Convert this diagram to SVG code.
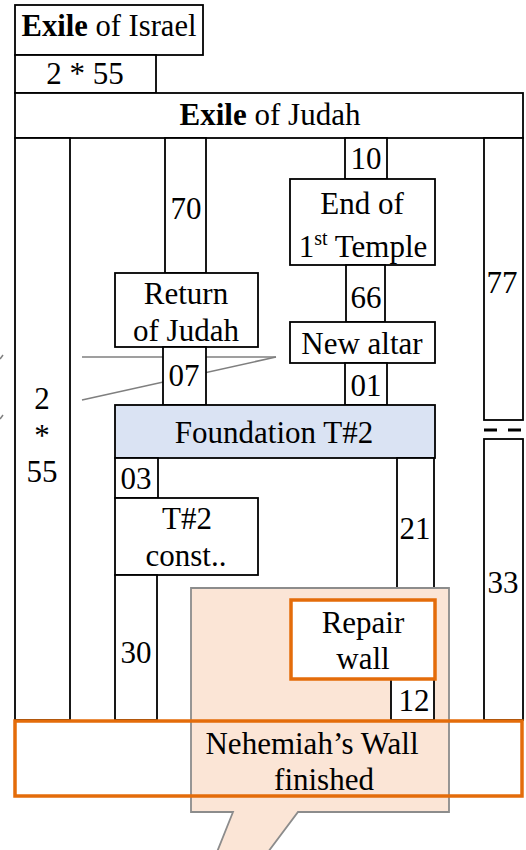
<svg xmlns="http://www.w3.org/2000/svg" width="526" height="850" viewBox="0 0 526 850">
<style>
.b{fill:#fff;stroke:#000;stroke-width:1.8}
.t{fill:#000;text-anchor:middle}
.o{fill:none;stroke:#E46C0A;stroke-width:3.5}
.g{stroke:#7f7f7f;stroke-width:1.5;fill:none}
</style>
<rect x="0" y="0" width="526" height="850" fill="#fff"/>
<g font-family="Liberation Serif, Times New Roman, serif" font-size="31">
<g id="connectors">
<line class="g" x1="82" y1="357" x2="276" y2="357"/>
<line class="g" x1="82" y1="400" x2="276" y2="357"/>
<line class="g" x1="0" y1="359" x2="3" y2="355"/>
<line class="g" x1="0" y1="419" x2="3" y2="415"/>
<line x1="484" y1="430" x2="497" y2="430" stroke="#000" stroke-width="3"/>
<line x1="508" y1="430" x2="521" y2="430" stroke="#000" stroke-width="3"/>
</g>
<g id="exile-israel"><rect class="b" x="15" y="5" width="188" height="50"/><text class="t" x="109" y="36" textLength="175" lengthAdjust="spacingAndGlyphs"><tspan font-weight="bold">Exile</tspan> of Israel</text></g>
<g id="israel-years"><rect class="b" x="15" y="55" width="141" height="38"/><text class="t" x="85" y="84">2 * 55</text></g>
<g id="exile-judah"><rect class="b" x="15" y="93" width="508" height="45"/><text class="t" x="270" y="125"><tspan font-weight="bold">Exile</tspan> of Judah</text></g>
<g id="left-col"><rect class="b" x="15" y="138" width="55" height="582"/><text class="t" x="42" y="409">2</text><text class="t" x="42" y="446">*</text><text class="t" x="42" y="482">55</text></g>
<g id="n70"><rect class="b" x="165" y="138" width="41" height="135"/><text class="t" x="186" y="219">70</text></g>
<g id="return-judah"><rect class="b" x="115" y="273" width="143" height="74"/><text class="t" x="186" y="304">Return</text><text class="t" x="186" y="341">of Judah</text></g>
<g id="n07"><rect class="b" x="163" y="347" width="43" height="58"/><text class="t" x="184" y="386">07</text></g>
<g id="n10"><rect class="b" x="345" y="138" width="42" height="41"/><text class="t" x="366" y="169">10</text></g>
<g id="end-temple"><rect class="b" x="290" y="179" width="145" height="86"/><text class="t" x="362" y="214">End of</text><text class="t" x="363" y="257">1<tspan font-size="20" dy="-12">st</tspan><tspan dy="12"> Temple</tspan></text></g>
<g id="n66"><rect class="b" x="346" y="265" width="39" height="57"/><text class="t" x="366" y="308">66</text></g>
<g id="new-altar"><rect class="b" x="290" y="322" width="145" height="41"/><text class="t" x="362" y="354">New altar</text></g>
<g id="n01"><rect class="b" x="345" y="363" width="42" height="42"/><text class="t" x="366" y="396">01</text></g>
<g id="n77"><rect class="b" x="484" y="138" width="39" height="282"/><text class="t" x="502" y="293">77</text></g>
<g id="n33"><rect class="b" x="484" y="439" width="39" height="281"/><text class="t" x="503" y="593">33</text></g>
<g id="foundation"><rect x="115" y="405" width="320" height="53" fill="#dae3f3" stroke="#000" stroke-width="1.8"/><text class="t" x="274" y="443">Foundation T#2</text></g>
<g id="n03"><rect class="b" x="115" y="458" width="43" height="40"/><text class="t" x="136" y="489">03</text></g>
<g id="t2-const"><rect class="b" x="115" y="498" width="143" height="77"/><text class="t" x="187" y="529">T#2</text><text class="t" x="186" y="566">const..</text></g>
<g id="n30"><rect class="b" x="115" y="575" width="42" height="145"/><text class="t" x="136" y="663">30</text></g>
<g id="n21"><rect class="b" x="397" y="458" width="37" height="142"/><text class="t" x="415" y="539">21</text></g>
<g id="nehemiah-fill"><rect x="15" y="721" width="507" height="75" fill="#fff"/></g>
<g id="callout"><path d="M191 588 H449 V812 H298 L268 852 H217 L233 812 H191 Z" fill="#fbe5d6" stroke="#8c8c8c" stroke-width="1.8"/></g>
<g id="n12"><rect class="b" x="391" y="679" width="43" height="41"/><text class="t" x="414" y="711">12</text></g>
<g id="repair-wall"><rect x="291" y="600" width="144" height="79" fill="#fff" stroke="#E46C0A" stroke-width="3.5"/><text class="t" x="363" y="633">Repair</text><text class="t" x="363" y="669">wall</text></g>
<g id="nehemiah"><rect class="o" x="15" y="721" width="507" height="75"/><text class="t" x="312" y="754">Nehemiah’s Wall</text><text class="t" x="324" y="790">finished</text></g>
</g>
</svg>
